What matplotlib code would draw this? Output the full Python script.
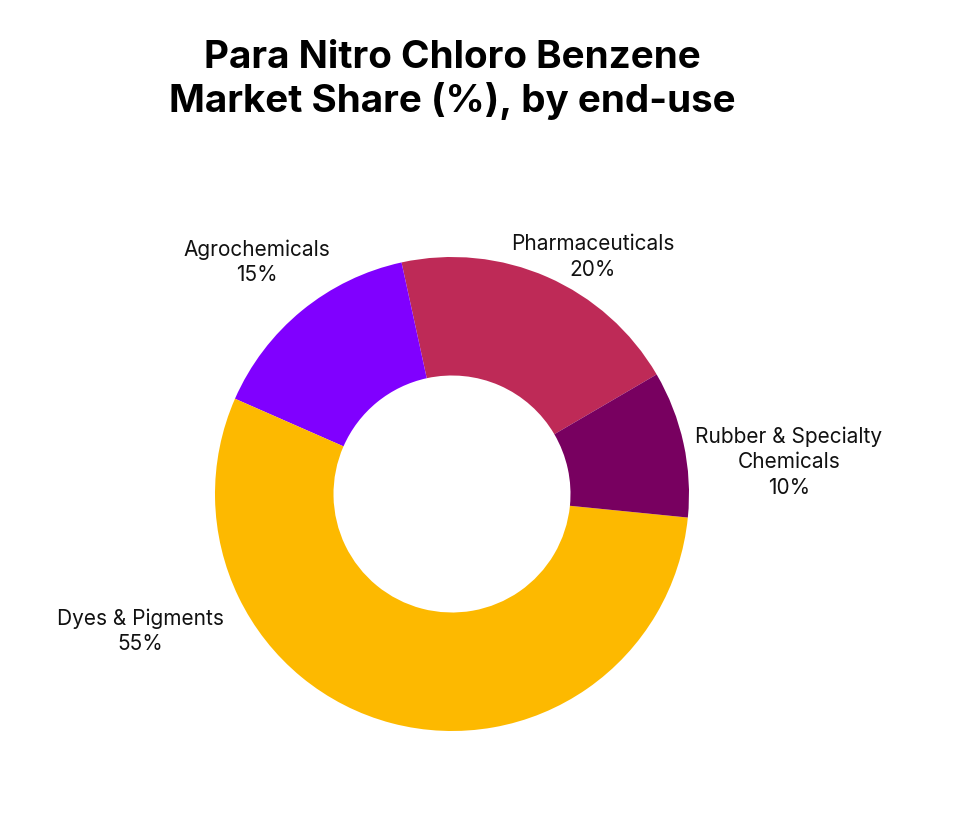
import numpy as np
import matplotlib.pyplot as plt

# data
labels = ['Pharmaceuticals', 'Agrochemicals', 'Dyes & Pigments', 'Rubber & Specialty\nChemicals']
shares = [20, 15, 55, 10]
colors = ['#BE2A57', '#8000FF', '#FDB900', '#780060']
# label positions (in units of pie radius, relative to centre)
label_pos = [(0.595, 1.004), (-0.822, 0.983), (-1.316, -0.574), (1.422, 0.139)]

plt.rcParams['font.family'] = ['Inter', 'DejaVu Sans']

fig = plt.figure(figsize=(9.63, 8.29), dpi=100)
ax = fig.add_axes([0, 0, 1, 1])

ax.pie(shares, colors=colors, startangle=30.3, counterclock=True,
       radius=1.0, wedgeprops=dict(width=0.5, linewidth=0))

for lab, val, (x, y) in zip(labels, shares, label_pos):
    ax.text(x, y, f'{lab}\n{val}%', ha='center', va='center',
            fontsize=15, linespacing=1.33, color='#111111')

# axes limits so the centre sits where it does in the picture
r = 237.0
ax.set_xlim(-452 / r, (963 - 452) / r)
ax.set_ylim(-(829 - 495) / r, 495 / r)
ax.set_aspect('auto')
ax.axis('off')

fig.text(452 / 963, 1 - 80 / 829, 'Para Nitro Chloro Benzene\nMarket Share (%), by end-use',
         ha='center', va='center', fontsize=27.8, fontweight='bold',
         linespacing=1.22, color='black')

plt.savefig('out.png', dpi=100)
